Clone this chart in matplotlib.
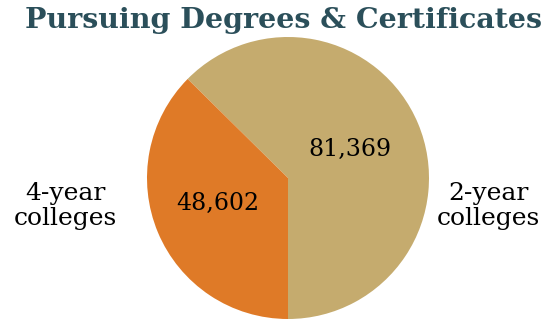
import matplotlib
matplotlib.use("Agg")
import matplotlib.pyplot as plt

categories = ["2-year\ncolleges", "4-year\ncolleges"]
values = [81369, 48602]
value_labels = ["81,369", "48,602"]
colors = ["#C5AB6E", "#DF7A27"]
title = "Pursuing Degrees & Certificates"

W, H = 555, 322
fig = plt.figure(figsize=(W / 100, H / 100), dpi=100)
ax = fig.add_axes([0, 0, 1, 1])
cx, cy, r = 288, 178, 141

ax.pie(values, colors=colors, startangle=-90, counterclock=True, radius=1,
       center=(0, 0), frame=True, wedgeprops=dict(linewidth=0))
ax.set_xlim(-cx / r, (W - cx) / r)
ax.set_ylim(-(H - cy) / r, cy / r)
ax.axis("off")

fnt = "DejaVu Serif"
ax.text(0.44, 0.20, value_labels[0], ha="center", va="center", fontsize=17, family=fnt, color="black")
ax.text(-0.50, -0.18, value_labels[1], ha="center", va="center", fontsize=17, family=fnt, color="black")
ax.text(1.42, -0.20, categories[0], ha="center", va="center", fontsize=18, family=fnt, color="black", linespacing=1.1)
ax.text(-1.58, -0.20, categories[1], ha="center", va="center", fontsize=18, family=fnt, color="black", linespacing=1.1)

fig.text(0.51, 0.935, title, ha="center", va="center", fontsize=20.5, family=fnt,
         fontweight="bold", color="#2B4F5A")

fig.savefig("out.png", dpi=100)
